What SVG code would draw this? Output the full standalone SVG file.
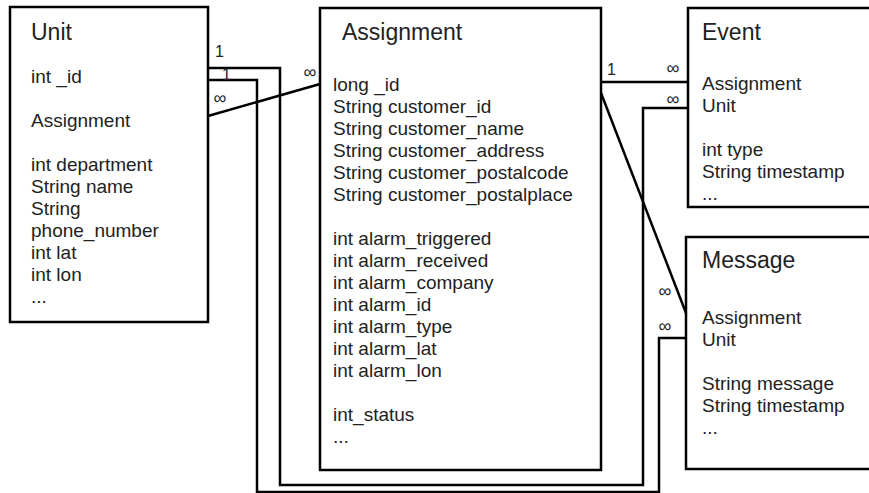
<svg xmlns="http://www.w3.org/2000/svg" width="869" height="493" viewBox="0 0 869 493">
  <style>
    .box { fill: #ffffff; stroke: #000000; stroke-width: 2.5; }
    .conn { fill: none; stroke: #000000; stroke-width: 2.5; }
    text { font-family: "Liberation Sans", Arial, sans-serif; fill: #222222; }
    .title { font-size: 23px; }
    .field { font-size: 19px; }
    .mult { font-size: 16px; }
    .inf { font-size: 18px; text-anchor: middle; }
  </style>
  <rect width="869" height="493" fill="#ffffff"/>

  <!-- relationship lines -->
  <g id="connectors">
    <!-- Unit._id to Event.Unit -->
    <path class="conn" d="M208,68 H280 V485 H643 V108 H688"/>
    <!-- Unit._id to Message.Unit -->
    <path class="conn" d="M208,80 H257 V492 H659 V338 H686"/>
    <!-- Unit.Assignment to Assignment._id -->
    <path class="conn" d="M208,116 L320,84"/>
    <!-- Assignment to Event.Assignment -->
    <path class="conn" d="M601,82 H688"/>
    <!-- Assignment to Message.Assignment -->
    <path class="conn" d="M601,93 L686,313"/>

    <text class="mult" x="215" y="57">1</text>
    <text class="mult" x="222" y="80">1</text>
    <text class="inf" x="220" y="104">∞</text>
    <text class="inf" x="310" y="78">∞</text>
    <text class="mult" x="607" y="75">1</text>
    <text class="inf" x="673" y="74">∞</text>
    <text class="inf" x="673" y="105">∞</text>
    <text class="inf" x="665" y="297">∞</text>
    <text class="inf" x="665" y="332">∞</text>
  </g>

  <g id="unit">
    <rect class="box" x="10" y="7" width="198" height="315"/>
    <text class="title" x="31" y="40">Unit</text>
    <text class="field" x="31" y="83">int _id</text>
    <text class="field" x="31" y="127">Assignment</text>
    <text class="field" x="31" y="171">int department</text>
    <text class="field" x="31" y="193">String name</text>
    <text class="field" x="31" y="215">String</text>
    <text class="field" x="31" y="237">phone_number</text>
    <text class="field" x="31" y="259">int lat</text>
    <text class="field" x="31" y="281">int lon</text>
    <text class="field" x="31" y="303">...</text>
  </g>

  <g id="assignment">
    <rect class="box" x="320" y="8" width="281" height="462"/>
    <text class="title" x="342" y="40">Assignment</text>
    <text class="field" x="333" y="91">long _id</text>
    <text class="field" x="333" y="113">String customer_id</text>
    <text class="field" x="333" y="135">String customer_name</text>
    <text class="field" x="333" y="157">String customer_address</text>
    <text class="field" x="333" y="179">String customer_postalcode</text>
    <text class="field" x="333" y="201">String customer_postalplace</text>
    <text class="field" x="333" y="245">int alarm_triggered</text>
    <text class="field" x="333" y="267">int alarm_received</text>
    <text class="field" x="333" y="289">int alarm_company</text>
    <text class="field" x="333" y="311">int alarm_id</text>
    <text class="field" x="333" y="333">int alarm_type</text>
    <text class="field" x="333" y="355">int alarm_lat</text>
    <text class="field" x="333" y="377">int alarm_lon</text>
    <text class="field" x="333" y="421">int_status</text>
    <text class="field" x="333" y="443">...</text>
  </g>

  <g id="event">
    <rect class="box" x="688" y="8" width="200" height="199"/>
    <text class="title" x="702" y="40">Event</text>
    <text class="field" x="702" y="90">Assignment</text>
    <text class="field" x="702" y="112">Unit</text>
    <text class="field" x="702" y="156">int type</text>
    <text class="field" x="702" y="178">String timestamp</text>
    <text class="field" x="702" y="200">...</text>
  </g>

  <g id="message">
    <rect class="box" x="686" y="237" width="200" height="232"/>
    <text class="title" x="702" y="268">Message</text>
    <text class="field" x="702" y="324">Assignment</text>
    <text class="field" x="702" y="346">Unit</text>
    <text class="field" x="702" y="390">String message</text>
    <text class="field" x="702" y="412">String timestamp</text>
    <text class="field" x="702" y="434">...</text>
  </g>
</svg>
